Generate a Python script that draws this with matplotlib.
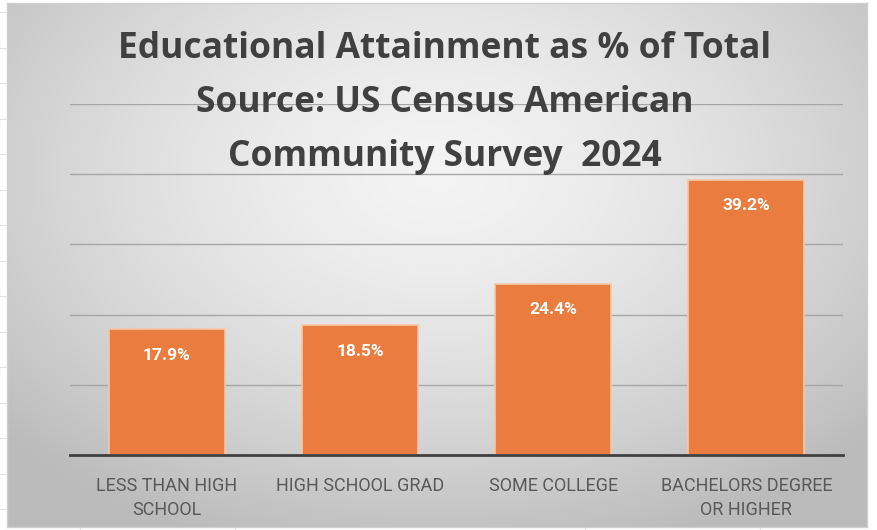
import numpy as np
import matplotlib.pyplot as plt

categories = ["LESS THAN HIGH\nSCHOOL", "HIGH SCHOOL GRAD", "SOME COLLEGE", "BACHELORS DEGREE\nOR HIGHER"]
shares = [17.9, 18.5, 24.4, 39.2]
title = "Educational Attainment as % of Total\nSource: US Census American\nCommunity Survey  2024"

W, H = 878, 530
fig = plt.figure(figsize=(W / 100, H / 100), dpi=100, facecolor="white")

# faint spreadsheet cell lines behind the chart object
sheet = fig.add_axes([0, 0, 1, 1])
sheet.set_xlim(0, W)
sheet.set_ylim(H, 0)
sheet.axis("off")
for yy in np.arange(12, H, 35.5):
    sheet.plot([0, 7], [yy, yy], color="#e4e4e4", lw=0.8)
for xx in [80, 235, 585, 760]:
    sheet.plot([xx, xx], [527, H], color="#e4e4e4", lw=0.8)

# chart area with radial grey gradient
x0, y0, x1, y1 = 7, 3, 867, 527
bg = fig.add_axes([x0 / W, 1 - y1 / H, (x1 - x0) / W, (y1 - y0) / H])
gx, gy = np.meshgrid(np.linspace(-1, 1, 400), np.linspace(-1, 1, 250))
r = np.sqrt((gx * 1.0) ** 2 + ((gy + 0.35) * 0.9) ** 2)
r = np.clip(r / 1.35, 0, 1)
shade = 0.955 - 0.22 * r ** 1.5
bg.imshow(np.dstack([shade] * 3), aspect="auto", extent=[0, 1, 0, 1], interpolation="bilinear")
bg.set_xticks([])
bg.set_yticks([])
for s in bg.spines.values():
    s.set_color("#d0d0d0")
    s.set_linewidth(1)

# plot area
pl, pr, pt, pb = 70, 843, 104, 455
ax = fig.add_axes([pl / W, 1 - pb / H, (pr - pl) / W, (pb - pt) / H])
ax.patch.set_alpha(0)
x = np.arange(len(categories))
bars = ax.bar(x, shares, width=0.6, color="#E97C3E", edgecolor="#f6c7a6", linewidth=1.2, zorder=3)
ax.set_xlim(-0.5, len(categories) - 0.5)
ax.set_ylim(0, 50)
ax.set_yticks(np.arange(10, 51, 10))
ax.yaxis.grid(True, color="#a6a6a6", linewidth=1.0, zorder=0)
ax.tick_params(axis="y", left=False, labelleft=False)
ax.tick_params(axis="x", bottom=False, pad=12)
ax.set_xticks(x)
ax.set_xticklabels(categories, fontsize=13, color="#595959", family="Roboto", linespacing=1.45)
for s in ["top", "right", "left"]:
    ax.spines[s].set_visible(False)
ax.spines["bottom"].set_color("#404040")
ax.spines["bottom"].set_linewidth(2)
ax.spines["bottom"].set_zorder(4)

for xi, v in zip(x, shares):
    ax.annotate(f"{v:.1f}%", (xi, v), xytext=(0, -26), textcoords="offset pixels",
                ha="center", va="center", color="white", fontsize=12.5, fontweight="bold",
                family="Roboto", zorder=5)

fig.text(445 / W, 1 - 103 / H, title, ha="center", va="center", fontsize=25.5, fontweight="bold",
         color="#404040", family="Open Sans", linespacing=1.66, zorder=10)

fig.savefig("out.png", dpi=100, facecolor="white")
